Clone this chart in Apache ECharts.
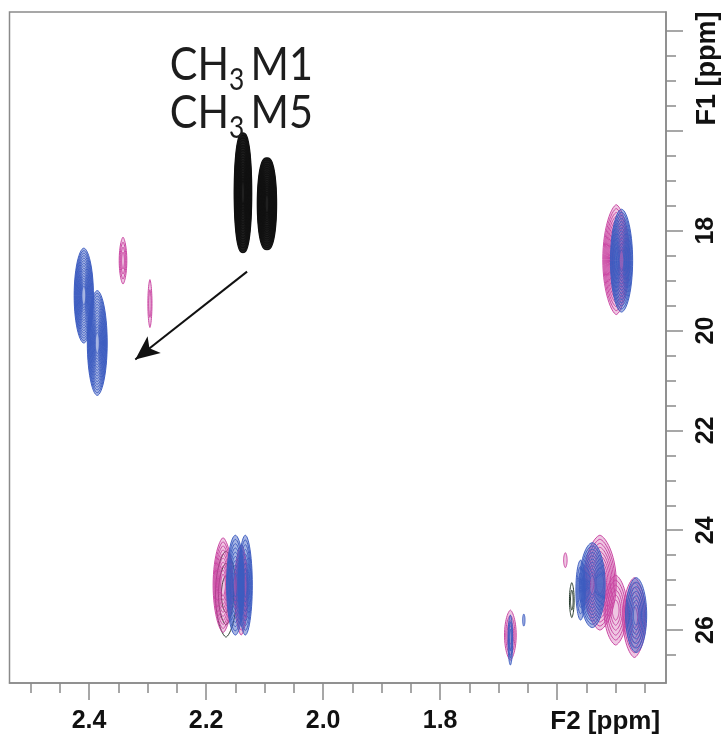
<!DOCTYPE html>
<html>
<head>
<meta charset="utf-8">
<script src="https://cdn.jsdelivr.net/npm/echarts@6/dist/echarts.min.js"></script>
<style>
  html, body { margin: 0; padding: 0; background: #ffffff; }
  #chart { width: 727px; height: 740px; }
</style>
</head>
<body>
<div id="chart"></div>
<script>
// Spectral window (ppm): F2 = 1H, F1 = 13C
const f2Window = [1.414, 2.536];
const f1Window = [13.62, 27.06];

// Axis ticks and labels
const f2MajorTicks = [1.6, 1.8, 2.0, 2.2, 2.4];
const f2MinorTicks = [1.45, 1.5, 1.55, 1.65, 1.7, 1.75, 1.85, 1.9, 1.95, 2.05, 2.1, 2.15, 2.25, 2.3, 2.35, 2.45, 2.5];
const f2LabelValues = [1.6, 1.8, 2.0, 2.2, 2.4];
const f2LabelTexts = ['F2 [ppm]', '1.8', '2.0', '2.2', '2.4'];
const f1MajorTicks = [14, 16, 18, 20, 22, 24, 26];
const f1MinorTicks = [14.5, 15, 15.5, 16.5, 17, 17.5, 18.5, 19, 19.5, 20.5, 21, 21.5, 22.5, 23, 23.5, 24.5, 25, 25.5, 26.5];
const f1LabelValues = [14.75, 18, 20, 22, 24, 26];
const f1LabelTexts = ['F1 [ppm]', '18', '20', '22', '24', '26'];

// Cross peaks: [F2 ppm, F1 ppm, half-width F2 ppm, half-width F1 ppm, contour levels]
const blackPeaks = [
  [2.137, 17.24, 0.0150, 1.20, 20],
  [2.096, 17.46, 0.0165, 0.92, 18]
];
const pinkPeaks = [
  [2.342, 18.60, 0.0065, 0.47, 4],
  [2.296, 19.46, 0.0035, 0.48, 2],
  [1.499, 18.58, 0.0230, 1.10, 12],
  [2.171, 25.10, 0.0170, 0.95, 10],
  [2.140, 25.20, 0.0120, 0.90, 8],
  [1.586, 24.60, 0.0030, 0.15, 1],
  [1.527, 25.05, 0.0280, 0.95, 10],
  [1.500, 25.60, 0.0200, 0.70, 6],
  [1.468, 25.75, 0.0200, 0.80, 7],
  [1.680, 26.10, 0.0100, 0.50, 4]
];
const bluePeaks = [
  [2.409, 19.30, 0.0165, 0.95, 16],
  [2.386, 20.25, 0.0170, 1.05, 16],
  [1.490, 18.60, 0.0190, 1.03, 14],
  [2.150, 25.10, 0.0150, 1.00, 10],
  [2.133, 25.10, 0.0120, 1.00, 9],
  [1.560, 25.20, 0.0080, 0.60, 4],
  [1.540, 25.10, 0.0220, 0.85, 11],
  [1.465, 25.70, 0.0180, 0.75, 7],
  [1.680, 26.20, 0.0040, 0.50, 3],
  [1.657, 25.80, 0.0020, 0.12, 1]
];
const darkPeaks = [
  [2.166, 25.28, 0.0180, 0.86, 3],
  [1.575, 25.40, 0.0040, 0.35, 2]
];

// Assignment annotation and arrow (ppm)
const labelLines = [
  [2.262, 15.14, 'M1'],
  [2.262, 16.12, 'M5']
];
const arrowFrom = [2.130, 18.82];
const arrowTo = [2.321, 20.58];

const measureCtx = document.createElement('canvas').getContext('2d');
function textWidth(str, font) {
  measureCtx.font = font;
  return measureCtx.measureText(str).width;
}

// Contour rings of one cross peak; `tip` > 1 sharpens the ends along F1
function contourRenderer(stroke, fill, lineWidth, tip) {
  return function (params, api) {
    const c = api.coord([api.value(0), api.value(1)]);
    const s = api.size([api.value(2), api.value(3)]);
    const rx = Math.abs(s[0]);
    const ry = Math.abs(s[1]);
    const n = api.value(4);
    const children = [];
    for (let k = n; k >= 1; k--) {
      const f = n === 1 ? 1 : 0.15 + 0.85 * (k / n);
      const pts = [];
      for (let i = 0; i < 56; i++) {
        const t = (i / 56) * Math.PI * 2;
        const ct = Math.cos(t);
        const st = Math.sin(t);
        pts.push([
          c[0] + rx * f * Math.sign(ct) * Math.pow(Math.abs(ct), tip),
          c[1] + ry * f * st
        ]);
      }
      children.push({
        type: 'polygon',
        shape: { points: pts },
        style: {
          stroke: stroke,
          fill: k === n ? fill : 'none',
          lineWidth: lineWidth
        },
        silent: true
      });
    }
    return { type: 'group', children: children };
  };
}

const bigFont = '47px Lato';
const subFont = '30px Lato';
function labelRenderer(params, api) {
  const c = api.coord([api.value(0), api.value(1)]);
  const tag = labelLines[params.dataIndex][2];
  const w1 = textWidth('CH', bigFont);
  const w2 = textWidth('3', subFont);
  const base = { fill: '#1d1d1d', align: 'left', verticalAlign: 'bottom' };
  return {
    type: 'group',
    x: c[0],
    y: c[1],
    scaleX: 0.88,
    children: [
      { type: 'text', x: 0, y: 0, style: Object.assign({ text: 'CH', font: bigFont }, base) },
      { type: 'text', x: w1, y: 7, style: Object.assign({ text: '3', font: subFont }, base) },
      { type: 'text', x: w1 + w2 + 7, y: 0, style: Object.assign({ text: tag, font: bigFont }, base) }
    ]
  };
}

function peakSeries(name, data, stroke, fill, lw, tip) {
  return {
    name: name,
    type: 'custom',
    xAxisIndex: 0,
    yAxisIndex: 0,
    renderItem: contourRenderer(stroke, fill, lw, tip),
    encode: { x: 0, y: 1 },
    data: data,
    silent: true,
    z: 3
  };
}

const gray = '#8a8a8a';
const tickLabelStyle = {
  color: '#111',
  fontFamily: 'Liberation Sans',
  fontWeight: 'bold',
  fontSize: 25
};

const option = {
  animation: false,
  backgroundColor: '#ffffff',
  grid: {
    left: 9.5, top: 12, right: 61, bottom: 57,
    show: true, borderColor: gray, borderWidth: 1.5, backgroundColor: 'transparent'
  },
  xAxis: [
    {
      type: 'value', min: f2Window[0], max: f2Window[1], inverse: true, position: 'bottom',
      axisLine: { show: true, lineStyle: { color: gray, width: 1.5 } },
      axisTick: { show: true, customValues: f2MajorTicks, length: 17, lineStyle: { color: gray, width: 1.5 } },
      axisLabel: {
        show: true, customValues: f2LabelValues, margin: 26,
        formatter: function (v) {
          const i = f2LabelValues.findIndex(function (u) { return Math.abs(u - v) < 1e-6; });
          return i === 0 ? '{f|' + f2LabelTexts[i] + '}' : (i > 0 ? f2LabelTexts[i] : '');
        },
        rich: { f: Object.assign({}, tickLabelStyle, { fontSize: 26, padding: [0, 0, 0, 96] }) },
        ...tickLabelStyle
      },
      splitLine: { show: false }
    },
    {
      type: 'value', min: f2Window[0], max: f2Window[1], inverse: true, position: 'bottom',
      axisLine: { show: false },
      axisTick: { show: true, customValues: f2MinorTicks, length: 10, lineStyle: { color: gray, width: 1.5 } },
      axisLabel: { show: false },
      splitLine: { show: false }
    }
  ],
  yAxis: [
    {
      type: 'value', min: f1Window[0], max: f1Window[1], inverse: true, position: 'right',
      axisLine: { show: true, lineStyle: { color: gray, width: 1.5 } },
      axisTick: { show: true, customValues: f1MajorTicks, length: 17, lineStyle: { color: gray, width: 1.5 } },
      axisLabel: {
        show: true, customValues: f1LabelValues, margin: 28, rotate: 90,
        formatter: function (v) {
          const i = f1LabelValues.findIndex(function (u) { return Math.abs(u - v) < 1e-6; });
          return i === 0 ? '{f|' + f1LabelTexts[i] + '}' : (i > 0 ? f1LabelTexts[i] : '');
        },
        rich: { f: Object.assign({}, tickLabelStyle, { fontSize: 27 }) },
        ...tickLabelStyle
      },
      splitLine: { show: false }
    },
    {
      type: 'value', min: f1Window[0], max: f1Window[1], inverse: true, position: 'right',
      axisLine: { show: false },
      axisTick: { show: true, customValues: f1MinorTicks, length: 10, lineStyle: { color: gray, width: 1.5 } },
      axisLabel: { show: false },
      splitLine: { show: false }
    }
  ],
  series: [
    peakSeries('dark', darkPeaks, '#263a2c', 'none', 1, 1.3),
    peakSeries('pink', pinkPeaks, 'rgba(200,66,160,0.95)', 'rgba(200,66,160,0.3)', 1, 1.3),
    peakSeries('blue', bluePeaks, 'rgba(60,92,192,0.95)', 'rgba(60,92,192,0.45)', 1, 1.1),
    Object.assign(peakSeries('black', blackPeaks, '#111111', 'rgba(17,17,17,0.94)', 1.2, 0.75), {
      markLine: {
        silent: true,
        symbol: ['none', 'arrow'],
        symbolSize: [16, 24],
        label: { show: false },
        lineStyle: { color: '#111', width: 2, type: 'solid' },
        data: [[{ coord: arrowFrom }, { coord: arrowTo }]]
      }
    }),
    {
      name: 'labels',
      type: 'custom',
      xAxisIndex: 0,
      yAxisIndex: 0,
      renderItem: labelRenderer,
      encode: { x: 0, y: 1 },
      data: labelLines.map(function (d) { return [d[0], d[1]]; }),
      silent: true,
      z: 5
    }
  ]
};

const chart = echarts.init(document.getElementById('chart'), null, { renderer: 'canvas' });
chart.setOption(option);
</script>
</body>
</html>
